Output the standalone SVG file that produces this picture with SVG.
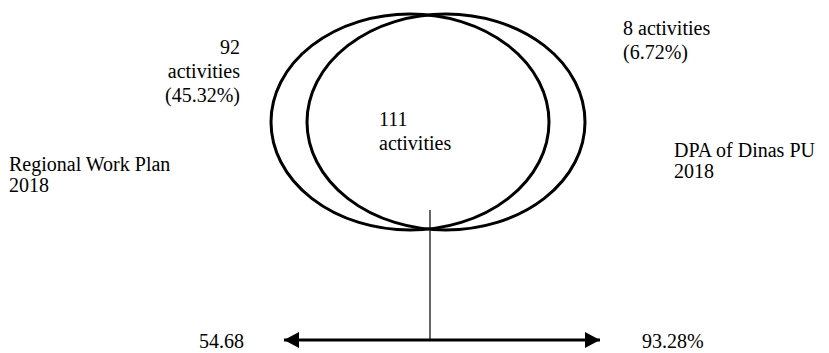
<svg xmlns="http://www.w3.org/2000/svg" width="829" height="353" viewBox="0 0 829 353">
<style>
text { font-family: "Liberation Serif", "Times New Roman", serif; font-size: 20px; fill: #000; }
.set { fill: none; stroke: #000; stroke-width: 3; }
.conn { stroke: #000; fill: none; }
</style>
<defs>
<marker id="ah" markerWidth="15" markerHeight="16" refX="15" refY="8" orient="auto-start-reverse" markerUnits="userSpaceOnUse">
<path d="M0,0 L15,8 L0,16 Z" fill="#000"/>
</marker>
</defs>
<rect width="829" height="353" fill="#fff"/>
<g id="set-left">
<ellipse class="set" cx="410" cy="122" rx="139" ry="108"/>
</g>
<g id="set-right">
<ellipse class="set" cx="446" cy="122" rx="139" ry="108"/>
</g>
<g id="connectors">
<line class="conn" x1="430" y1="210" x2="430" y2="340" stroke-width="1.2"/>
<line class="conn" x1="284" y1="340" x2="600" y2="340" stroke-width="3" marker-start="url(#ah)" marker-end="url(#ah)"/>
</g>
<g id="label-left-only">
<text x="240" y="54" text-anchor="end">92</text>
<text x="240" y="78" text-anchor="end">activities</text>
<text x="240" y="102" text-anchor="end">(45.32%)</text>
</g>
<g id="label-right-only">
<text x="623" y="35">8 activities</text>
<text x="623" y="59">(6.72%)</text>
</g>
<g id="label-intersection">
<text x="379" y="126">111</text>
<text x="379" y="150">activities</text>
</g>
<g id="label-rwp">
<text x="9" y="171">Regional Work Plan</text>
<text x="9" y="192">2018</text>
</g>
<g id="label-dpa">
<text x="674" y="157">DPA of Dinas PU</text>
<text x="674" y="178">2018</text>
</g>
<g id="label-left-pct">
<text x="199" y="348">54.68</text>
</g>
<g id="label-right-pct">
<text x="642" y="348">93.28%</text>
</g>
</svg>
